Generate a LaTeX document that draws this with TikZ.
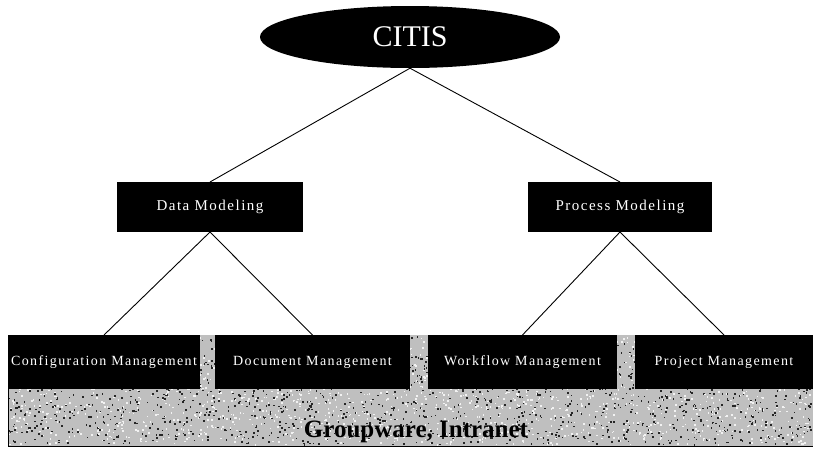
\documentclass[tikz,border=0pt]{standalone}
\usepackage{fontspec}
\setmainfont{Liberation Serif}
\newfontfamily\boxfont[LetterSpace=10]{Liberation Serif}
\usetikzlibrary{shapes.geometric}

\begin{document}
\begin{tikzpicture}[x=1pt,y=-1pt,
  blackbox/.style={fill=black, text=white, inner sep=0pt, outer sep=0pt,
    font=\boxfont\fontsize{14}{14}\selectfont},
  toplabel/.style={ellipse, fill=black, text=white, inner sep=0pt,
    font=\fontsize{30}{30}\selectfont},
  link/.style={draw=black, line width=0.9pt}]
\useasboundingbox (0,0) rectangle (814,448);

% grainy groupware band behind the bottom row
\fill[gray!50] (8,335) rectangle (813,446);
\pgfmathsetseed{11}
\foreach \i in {1,...,3600}{
  \pgfmathsetmacro\px{8+803*rnd}
  \pgfmathsetmacro\py{335+109*rnd}
  \pgfmathsetmacro\sh{ifthenelse(rnd<0.5,85,5)}
  \fill[black!\sh] (\px,\py) rectangle ++(1.6,1.6);
}
\draw[black, line width=1pt] (8,335) -- (8,446) -- (813,446);

% top node
\node[toplabel, minimum width=300, minimum height=62] (citis) at (410,37) {CITIS};

% second level
\node[blackbox, minimum width=186, minimum height=50,
  font=\boxfont\fontsize{15}{15}\selectfont] (data) at (210,207) {Data Modeling};
\node[blackbox, minimum width=184, minimum height=50,
  font=\boxfont\fontsize{15}{15}\selectfont] (proc) at (620,207) {Process Modeling};

% third level
\node[blackbox, minimum width=192, minimum height=54] (conf) at (104,362) {Configuration Management};
\node[blackbox, minimum width=195, minimum height=54] (doc) at (312.5,362) {Document Management};
\node[blackbox, minimum width=189, minimum height=54] (work) at (522.5,362) {Workflow Management};
\node[blackbox, minimum width=178, minimum height=54] (proj) at (724,362) {Project Management};

% connectors
\draw[link] (citis.south) -- (data.north);
\draw[link] (citis.south) -- (proc.north);
\draw[link] (data.south) -- (conf.north);
\draw[link] (data.south) -- (doc.north);
\draw[link] (proc.south) -- (work.north);
\draw[link] (proc.south) -- (proj.north);

% band caption
\node[anchor=base, inner sep=0pt, font=\bfseries\fontsize{25}{25}\selectfont] (gw) at (416,437) {Groupware, Intranet};
\end{tikzpicture}
\end{document}
